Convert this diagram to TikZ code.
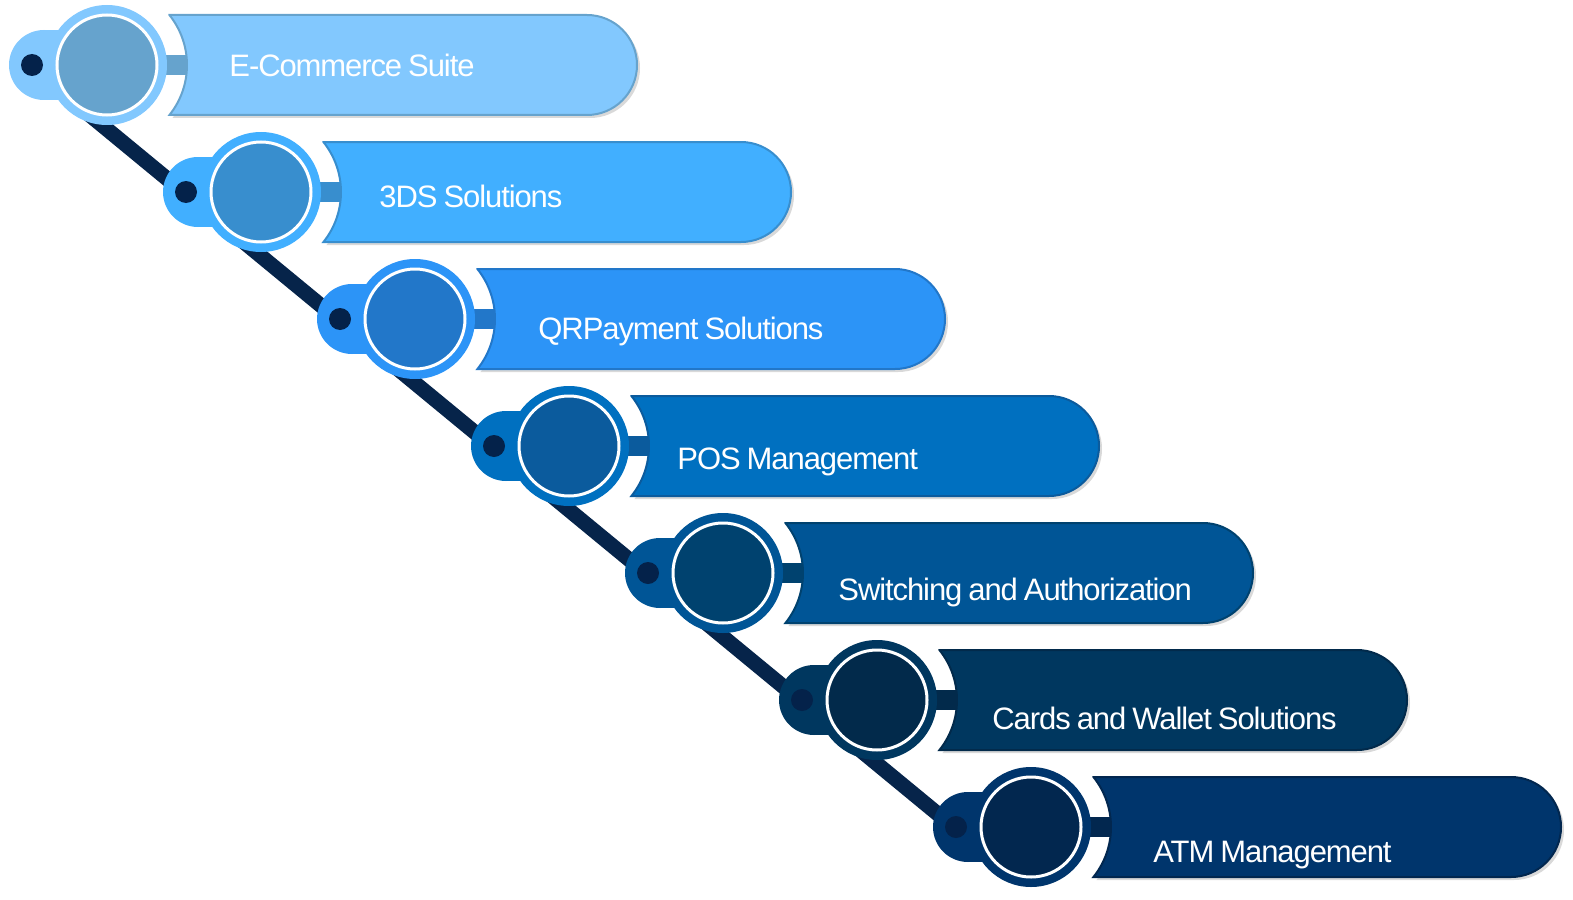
\documentclass[tikz,border=0pt]{standalone}
\usepackage{fontspec}
\setmainfont{Liberation Sans}[WordSpace=0.8, LetterSpace=-3.5]
\usetikzlibrary{shadows}
\definecolor{band1}{HTML}{82C8FE}
\definecolor{core1}{HTML}{66A3CD}
\definecolor{band2}{HTML}{41AFFF}
\definecolor{core2}{HTML}{388ECE}
\definecolor{band3}{HTML}{2C94F7}
\definecolor{core3}{HTML}{2277C9}
\definecolor{band4}{HTML}{0070C0}
\definecolor{core4}{HTML}{0B5B9D}
\definecolor{band5}{HTML}{005596}
\definecolor{core5}{HTML}{00426F}
\definecolor{band6}{HTML}{00375F}
\definecolor{core6}{HTML}{022A4B}
\definecolor{band7}{HTML}{00356C}
\definecolor{core7}{HTML}{02274F}
\definecolor{spine}{HTML}{06244A}
\definecolor{knob}{HTML}{04224A}

\begin{document}
\begin{tikzpicture}[x=0.5pt,y=-0.5pt,
    banner/.style={line width=1pt, drop shadow={shadow xshift=1.5pt, shadow yshift=-1.5pt, opacity=0.3}},
    steptext/.style={text=white, anchor=base west, inner sep=0pt, font=\fontsize{15.5}{18}\selectfont}]
    % Cadre
    \useasboundingbox (0,0) rectangle (1573,899);
    % Ligne de liaison
    \coordinate (spineA) at (80,107);
    \coordinate (spineB) at (950,824);
    \draw[line width=7.5pt, spine] (spineA) -- (spineB);
    % Etapes
    \foreach \n/\txt/\dx/\dy in {1/E-Commerce Suite/122/0, 2/3DS Solutions/118/3,
        3/QRPayment Solutions/123/8, 4/POS Management/108/11,
        5/Switching and Authorization/115/15, 6/Cards and Wallet Solutions/115/17,
        7/ATM Management/122/23}
    {
      \begin{scope}[shift={({107+154*(\n-1)},{65+127*(\n-1)})}]
        % Barre
        \fill[core\n] (50,-10) rectangle (95,10);
        % Bandeau
        \filldraw[banner, fill=band\n, draw=core\n] (62.45,-50) -- (480,-50)
          arc[start angle=-90, end angle=90, radius=50] -- (62.45,50)
          arc[start angle=38.66, end angle=-38.66, radius=80] -- cycle;
        % Languette
        \fill[band\n] (-63,0) circle[radius=35];
        \fill[band\n] (-63,-35) rectangle (0,35);
        \fill[knob] (-75,0) circle[radius=11];
        % Cercle
        \node[circle, fill=band\n, minimum size=60pt, inner sep=0pt] (hub\n) at (0,0) {};
        \node[circle, fill=core\n, draw=white, line width=1.5pt, minimum size=50pt, inner sep=0pt] (ring\n) at (0,0) {};
        % Texte
        \node[steptext] (txt\n) at (\dx,\dy+12) {\txt};
      \end{scope}
    }
\end{tikzpicture}
\end{document}
